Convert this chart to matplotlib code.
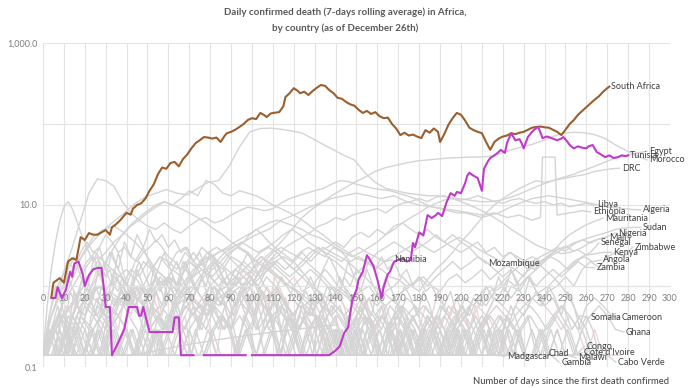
import matplotlib
matplotlib.use("Agg")
import numpy as np
import matplotlib.pyplot as plt

plt.rcParams['font.family'] = ['Lato', 'DejaVu Sans']

# South Africa (brown) and Tunisia (magenta): day, 7-day avg deaths
sa_days = [4, 5, 8, 10, 12, 14, 16, 18, 20, 22, 24, 26, 28, 30, 32, 33, 35, 37, 39, 40,
           42, 43, 45, 47, 49, 51, 53, 55, 57, 59, 61, 63, 65, 67, 69, 71, 73, 75, 77, 79,
           81, 83, 85, 87, 88, 90, 92, 94, 96, 98, 100, 102, 104, 106, 107, 109, 111, 113, 115, 116,
           118, 120, 122, 123, 125, 127, 129, 131, 133, 135, 137, 139, 141, 143, 145, 147, 149, 151, 153, 155,
           157, 159, 161, 163, 165, 167, 169, 171, 173, 175, 177, 179, 181, 183, 185, 187, 189, 190, 192, 194,
           196, 198, 200, 202, 204, 206, 208, 210, 212, 214, 216, 218, 220, 222, 224, 226, 228, 230, 232, 234,
           236, 238, 240, 242, 244, 246, 248, 250, 252, 254, 256, 258, 260, 262, 264, 266, 268, 270, 271]
sa_vals = [0.73, 1.1, 1.25, 1.1, 2.0, 2.2, 2.1, 4.0, 3.7, 4.5, 4.3, 4.3, 4.6, 4.9, 4.3, 5.3, 5.8, 6.5, 7.5, 8.0,
           7.6, 9.0, 10, 10.5, 12, 15, 18, 24, 29, 28, 33, 34, 30, 37, 42, 50, 58, 63, 69, 68,
           66, 68, 60, 72, 77, 80, 85, 92, 100, 112, 118, 115, 137, 128, 122, 135, 138, 140, 165, 215,
           240, 277, 255, 240, 250, 228, 255, 280, 303, 295, 262, 240, 210, 205, 187, 175, 168, 150, 137, 145,
           133, 140, 125, 118, 120, 100, 88, 73, 78, 72, 74, 70, 67, 84, 78, 88, 80, 60, 75, 98,
           118, 137, 130, 110, 90, 84, 80, 77, 60, 48, 60, 66, 70, 72, 77, 75, 78, 80, 85, 90,
           92, 93, 91, 90, 85, 80, 73, 85, 100, 112, 130, 145, 162, 180, 200, 220, 250, 277, 290]

tun_days = [4, 6, 7, 9, 11, 13, 14, 15, 17, 19, 20, 22, 24, 26, 28, 29, 30, 32, 33, 36,
            39, 41, 43, 45, 46, 47, 48, 49, 51, 55, 60, 62, 63, 65, 66, 67, 70, 72, 73, 76,
            77, 85, 92, 97, 98, 99, 100, 110, 120, 130, 137, 140, 142, 144, 146, 148, 150, 151, 153, 155,
            156, 158, 160, 162, 163, 165, 166, 168, 170, 172, 174, 176, 177, 178, 180, 182, 184, 186, 188, 189,
            191, 193, 195, 197, 198, 200, 202, 203, 204, 206, 208, 210, 211, 213, 214, 216, 218, 219, 221, 222,
            224, 226, 228, 229, 230, 232, 234, 235, 237, 239, 241, 242, 244, 246, 248, 249, 251, 252, 254, 256,
            258, 260, 261, 263, 265, 267, 269, 271, 273, 275, 277, 279, 280]
tun_vals = [0.71, 0.71, 0.97, 0.71, 0.9, 1.5, 1.3, 1.9, 2.0, 1.4, 1.0, 1.37, 1.6, 1.67, 1.67, 1.0, 0.55, 0.55, 0.14, 0.2,
            0.3, 0.55, 0.55, 0.55, 0.43, 0.43, 0.55, 0.43, 0.27, 0.27, 0.27, 0.27, 0.41, 0.41, 0.14, 0.14, 0.14, 0.14, 0, 0,
            0.14, 0.14, 0.14, 0.14, 0, 0, 0.14, 0.14, 0.14, 0.14, 0.14, 0.16, 0.18, 0.26, 0.31, 0.67, 0.9, 1.2, 1.5, 2.4,
            2.2, 1.8, 1.2, 0.71, 0.97, 1.4, 1.5, 2.0, 2.1, 2.2, 2.0, 2.1, 3.4, 3.0, 4.6, 4.2, 7.5, 6.9, 7.5, 8.0,
            7.3, 10.6, 14, 13, 14.5, 14, 18.7, 23, 25, 23, 21.5, 15, 28, 35, 38, 41, 45, 48, 44, 58,
            77, 63, 65, 58, 50, 69, 80, 85, 92, 67, 70, 69, 66, 63, 66, 69, 60, 55, 50, 53,
            51, 50, 53, 55, 45, 42, 39, 41, 38, 39, 41, 40, 41]

# other countries: (day of first value, step in days, values)
egypt = (4, 5, [0.43, 0.86, 1.6, 2.4, 3.6, 4.9, 6.3, 8.0, 10.4, 12.6, 14, 15.5, 14, 13.3, 16, 19, 20, 30, 52, 80,
                88, 89, 86, 82, 77, 66, 56, 48, 41, 36, 25, 19, 16, 15, 14, 13.5, 13, 13, 12.5, 12,
                11.5, 11, 11, 11.5, 12.5, 14, 16, 18, 20, 22, 24, 27, 30, 34, 38, 41, 44, 46])
morocco = (4, 5, [0.29, 0.57, 1.2, 2.5, 4.0, 5.0, 5.5, 4.5, 3.5, 2.5, 1.6, 1.2, 0.9, 0.7, 0.6, 0.5, 0.7, 0.9, 1.2, 1.5,
                  2.0, 2.6, 3.5, 5.0, 7.0, 9.0, 11, 13.5, 16, 19, 22, 26, 29, 31, 33, 35, 36, 37, 38, 38.5,
                  39, 39, 40, 43, 48, 52, 56, 62, 70, 77, 79, 78, 74, 66, 55, 47, 41, 36])
algeria = (2, 4, [0.29, 0.6, 1.5, 3.0, 6.5, 14, 21, 20, 17, 11, 8, 6.5, 5.5, 5, 6, 5, 4.5, 5.5, 6.5, 7,
                  6, 6.5, 7.5, 8.5, 9.4, 9, 8.5, 9, 10.6, 12, 13, 14, 15, 16, 18, 20, 19.5, 18, 17, 16,
                  15.5, 15, 14, 13, 12, 10.5, 9.5, 9, 8.5, 8, 8, 7.5, 7, 7.5, 8, 9, 10, 11, 12, 12.5,
                  13, 12.5, 12, 11.5, 11, 10.5, 10, 9.5, 9.2, 9, 8.8, 8.7])
nigeria = (2, 4, [0.14, 0.29, 0.43, 0.57, 0.86, 1.3, 2.0, 2.6, 3.5, 4.3, 5.5, 6.5, 8, 9.4, 11, 10, 12, 15, 13, 20,
                  18, 14, 13, 15, 14, 13, 11.5, 10, 9, 8, 7, 6, 5, 4.3, 3.5, 3, 2.6, 2.2, 2.0, 1.8,
                  1.6, 1.3, 1.2, 1.0, 1.1, 1.3, 1.0, 0.86, 1.2, 1.4, 1.1, 1.3, 1.6, 1.2, 1.5, 1.8, 1.6, 2.0, 2.3, 2.0,
                  2.4, 2.8, 3.1, 2.7, 3.0, 3.5, 3.8, 4.1, 4.5])
drc = (0, 4, [0.14, 0.29, 0.43, 0.29, 0.57, 0.43, 0.86, 1.0, 0.71, 1.3, 1.6, 1.2, 2.0, 1.6, 2.3, 2.0, 1.6, 2.6, 2.0, 3.0,
              2.4, 2.0, 1.6, 1.3, 1.0, 1.2, 0.86, 0.71, 1.0, 0.57, 0.43, 0.71, 0.57, 0.29, 0.43, 0.57, 0.43, 0.29, 0.43, 0.71,
              0.57, 0.86, 1.0, 1.3, 1.0, 0.86, 1.2, 1.6, 2.0, 2.6, 3.5, 4.5, 6, 8, 10, 12, 14, 16, 18, 20,
              19, 20, 21, 22, 23, 24, 26, 27, 28, 28.5])
libya = (0, 4, [0.14, 0.29, 0.14, 0.14, 0.29, 0.14, 0.14, 0.29, 0.14, 0.14, 0.29, 0.14, 0.43, 0.29, 0.14, 0.29, 0.43, 0.29, 0.57, 0.43,
                0.71, 0.57, 0.86, 1.0, 1.3, 1.0, 1.6, 2.0, 2.3, 3.0, 3.5, 4.0, 4.6, 5.5, 6.0, 7.0, 6.5, 7.5, 8.0, 8.5,
                9.0, 8.0, 9.5, 10.5, 11, 12, 11, 12.5, 13, 12, 11.5, 12, 13, 12, 11, 10.5, 11.5, 12, 11, 10.5,
                11, 10, 10.5, 9.5, 10, 10.5, 10])
ethiopia_days = [0, 6, 12, 18, 24, 30, 36, 42, 48, 54, 60, 66, 72, 78, 84, 90, 96, 102, 108, 114,
                 120, 126, 132, 138, 144, 150, 156, 162, 168, 174, 180, 186, 192, 198, 204, 210, 216, 222, 228, 234,
                 238, 239, 245, 246, 252, 258, 262]
ethiopia_vals = [0.14, 0.29, 0.14, 0.43, 0.29, 0.57, 0.43, 0.86, 0.57, 1.0, 1.3, 1.0, 1.6, 2.0, 2.6, 3.0, 3.5, 4.3, 5, 6.5,
                 7.5, 9, 10.5, 12, 13, 14, 13, 12, 13, 11, 10, 9.5, 9, 8.5, 8, 7.5, 8, 7, 7.5, 6.5,
                 7, 39, 39, 7.5, 8, 8.5, 8.2]
mauritania = (0, 4, [0.14, 0.14, 0.29, 0.14, 0.43, 0.29, 0.14, 0.57, 0.29, 0.14, 0.43, 0.71, 1.0, 1.6, 2.3, 1.7, 2.6, 3.0, 2.0, 1.6,
                     1.3, 1.0, 0.71, 0.86, 0.57, 0.43, 0.71, 0.29, 0.43, 0.14, 0.29, 0.14, 0.29, 0.43, 0.14, 0.29, 0.14, 0.14, 0.29, 0.43,
                     0.14, 0.29, 0.14, 0.57, 0.29, 0.14, 0.43, 0.29, 0.14, 0.29, 0.43, 0.57, 0.29, 0.43, 0.71, 0.57, 1.0, 0.86, 1.3, 1.6,
                     2.0, 2.6, 3.5, 4.3, 5.0, 5.7, 6.3, 6.9])
sudan = (2, 4, [0.14, 0.29, 0.43, 0.29, 0.57, 0.86, 1.3, 2.0, 3.0, 4.3, 5.7, 7.0, 8.5, 10.0, 11, 10, 9.0, 8.0, 7.0, 6.0,
                5.0, 4.3, 3.5, 3.0, 2.6, 2.0, 1.7, 1.4, 1.2, 1.0, 0.86, 0.71, 0.57, 0.71, 0.43, 0.57, 0.29, 0.43, 0.57, 0.29,
                0.43, 0.29, 0.14, 0.29, 0.43, 0.57, 0.43, 0.29, 0.57, 0.43, 0.71, 0.57, 0.86, 1.0, 0.71, 1.2, 1.0, 1.4, 1.7, 2.0,
                2.3, 2.6, 3.0, 3.4, 3.7, 4.0, 4.3, 4.6, 5.0, 5.2, 5.3, 5.3])
mali = (2, 4, [0.14, 0.29, 0.14, 0.43, 0.71, 0.57, 1.0, 0.86, 1.3, 1.0, 1.6, 1.3, 2.0, 1.6, 1.3, 1.0, 0.71, 0.86, 0.57, 0.43,
               0.57, 0.29, 0.43, 0.14, 0.29, 0.43, 0.14, 0.29, 0.14, 0.43, 0.29, 0.14, 0.29, 0.57, 0.29, 0.14, 0.43, 0.29, 0.57, 0.43,
               0.29, 0.57, 0.43, 0.71, 0.57, 0.43, 0.29, 0.57, 0.43, 0.29, 0.43, 0.71, 0.57, 0.86, 1.0, 1.3, 1.6, 1.3, 2.0, 2.3,
               2.6, 3.0, 2.7, 3.3, 3.7, 3.4, 3.8, 4.0])
senegal = (2, 4, [0.14, 0.14, 0.29, 0.14, 0.43, 0.29, 0.57, 0.43, 0.71, 0.57, 0.86, 1.0, 0.71, 1.3, 1.0, 1.6, 1.3, 2.0, 1.7, 2.3,
                  2.0, 1.6, 2.3, 2.0, 1.6, 1.3, 1.7, 2.0, 1.6, 1.3, 1.6, 2.0, 2.6, 3.0, 2.6, 2.3, 2.0, 1.6, 1.3, 1.0,
                  0.86, 0.71, 0.57, 0.43, 0.57, 0.29, 0.43, 0.29, 0.14, 0.29, 0.43, 0.29, 0.14, 0.29, 0.43, 0.29, 0.57, 0.43, 0.71, 0.86,
                  1.0, 1.3, 1.6, 2.0, 2.3, 2.6, 3.4])
zimbabwe = (2, 4, [0.14, 0.14, 0.14, 0.29, 0.14, 0.14, 0.29, 0.14, 0.14, 0.14, 0.29, 0.14, 0.14, 0.29, 0.14, 0.14, 0.14, 0.29, 0.14, 0.14,
                   0.29, 0.43, 0.29, 0.57, 0.86, 1.3, 2.0, 2.6, 3.0, 2.6, 2.3, 2.0, 1.6, 1.3, 1.0, 0.86, 0.71, 0.57, 0.43, 0.29,
                   0.43, 0.29, 0.14, 0.29, 0.14, 0.29, 0.43, 0.29, 0.14, 0.29, 0.14, 0.29, 0.43, 0.29, 0.14, 0.29, 0.43, 0.57, 0.71, 0.57,
                   0.86, 1.0, 1.3, 1.0, 1.6, 2.0, 1.7, 2.3, 2.6, 2.3, 3.0])
kenya = (0, 4, [0.14, 0.29, 0.43, 0.29, 0.57, 0.43, 0.71, 0.57, 0.86, 0.71, 0.57, 0.86, 1.0, 0.71, 1.0, 1.3, 1.0, 1.6, 1.3, 2.0,
                2.3, 2.6, 3.0, 3.5, 4.0, 4.6, 5.3, 6.0, 6.5, 6.0, 5.5, 5.0, 4.3, 4.0, 3.5, 3.0, 2.6, 2.3, 2.6, 3.0,
                3.5, 4.3, 5.0, 6.0, 7.0, 8.0, 9.4, 10.5, 11.5, 12, 11, 10, 9.0, 8.0, 7.0, 6.0, 5.0, 4.3, 3.7, 3.2,
                2.9, 2.7, 2.5, 2.6, 2.8, 2.4, 2.5, 2.6, 2.6])
angola = (3, 4, [0.14, 0.14, 0.29, 0.14, 0.14, 0.29, 0.14, 0.14, 0.14, 0.29, 0.14, 0.14, 0.29, 0.43, 0.29, 0.14, 0.29, 0.43, 0.57, 0.43,
                 0.71, 0.57, 0.86, 1.0, 1.3, 1.0, 1.6, 2.0, 2.3, 2.0, 2.6, 3.0, 2.6, 2.3, 3.0, 2.6, 2.0, 2.3, 2.0, 1.6,
                 2.0, 2.3, 2.6, 3.0, 3.5, 3.0, 2.6, 3.0, 3.5, 4.0, 3.5, 3.0, 2.6, 2.3, 2.0, 2.6, 2.3, 2.0, 1.6, 2.0,
                 2.3, 2.0, 1.6, 2.0, 2.3, 2.0, 2.1])
zambia = (4, 4, [0.14, 0.14, 0.29, 0.14, 0.29, 0.14, 0.14, 0.29, 0.43, 0.29, 0.14, 0.29, 0.57, 0.43, 0.29, 0.57, 0.71, 0.43, 0.29, 0.57,
                 0.86, 1.0, 1.3, 1.6, 2.0, 2.6, 3.0, 2.6, 2.0, 1.6, 1.3, 1.0, 0.86, 0.71, 0.57, 0.43, 0.57, 0.43, 0.29, 0.43,
                 0.29, 0.43, 0.57, 0.43, 0.29, 0.14, 0.29, 0.43, 0.29, 0.57, 0.43, 0.71, 0.57, 0.86, 1.0, 0.71, 1.0, 1.3, 1.0, 1.3,
                 1.6, 1.3, 1.6, 2.0, 1.7, 1.67])
namibia = (3, 4, [0.14, 0.14, 0.14, 0.29, 0.14, 0.14, 0.14, 0.29, 0.14, 0.14, 0.14, 0.29, 0.14, 0.14, 0.43, 0.29, 0.57, 0.86, 1.3, 1.6,
                  2.0, 2.6, 3.0, 3.5, 3.0, 2.6, 3.0, 3.5, 4.3, 5.0, 4.3, 3.5, 3.0, 2.6, 2.3, 2.0, 2.6, 3.0, 2.6, 2.3,
                  2.0, 2.1])
mozambique = (4, 4, [0.14, 0.14, 0.29, 0.14, 0.14, 0.29, 0.14, 0.29, 0.43, 0.29, 0.14, 0.29, 0.43, 0.57, 0.43, 0.29, 0.57, 0.43, 0.71, 0.57,
                     0.86, 1.0, 1.3, 1.0, 1.6, 1.3, 2.0, 1.6, 1.3, 1.0, 1.3, 1.6, 1.3, 1.0, 0.86, 1.0, 0.71, 0.86, 1.0, 0.71,
                     0.57, 0.71, 0.86, 1.0, 1.3, 1.0, 1.3, 1.6, 2.0, 1.6, 1.9, 2.3, 1.9])
somalia = (1, 4, [0.14, 0.29, 0.57, 0.86, 1.3, 2.0, 2.6, 2.0, 1.6, 1.3, 1.0, 0.71, 0.57, 0.43, 0.29, 0.43, 0.29, 0.14, 0.29, 0.14,
                  0.29, 0.43, 0.29, 0.14, 0.29, 0.14, 0.14, 0.29, 0.14, 0.14, 0.29, 0.14, 0.14, 0.14, 0.29, 0.14, 0.14, 0.29, 0.14, 0.14,
                  0.29, 0.14, 0.43, 0.29, 0.14, 0.29, 0.14, 0.14, 0.29, 0.43, 0.29, 0.14, 0.29, 0.43, 0.57, 0.43, 0.29, 0.43, 0.57, 0.43,
                  0.29, 0.43, 0.57, 0.29, 0.43, 0.41])
cameroon = (0, 4, [0.14, 0.43, 0.86, 1.3, 0.71, 1.6, 2.3, 1.3, 2.6, 1.6, 1.0, 2.0, 3.0, 1.6, 0.86, 1.3, 2.0, 1.0, 0.71, 1.3,
                   2.6, 1.6, 1.0, 0.57, 0.86, 1.3, 0.71, 0.43, 0.86, 0.57, 0.29, 0.57, 0.43, 0.71, 0.29, 0.43, 0.14, 0.29, 0.57, 0.29,
                   0.14, 0.29, 0.43, 0.14, 0.29, 0.14, 0.43, 0.29, 0.14, 0.29, 0.14, 0.14, 0.29, 0.43, 0.14, 0.29, 0.57, 0.29, 0.43, 0.14,
                   0.29, 0.43, 0.57, 0.43, 0.29, 0.57, 0.71, 0.57, 0.43, 0.41])
ghana = (2, 4, [0.14, 0.29, 0.43, 0.29, 0.57, 0.71, 0.43, 0.86, 0.57, 1.0, 0.71, 0.43, 0.86, 1.3, 1.0, 0.57, 1.3, 2.0, 1.6, 1.0,
                2.3, 1.3, 0.86, 1.6, 2.6, 1.6, 1.0, 0.71, 1.3, 0.86, 0.57, 0.86, 0.43, 0.29, 0.57, 0.43, 0.29, 0.14, 0.43, 0.29,
                0.14, 0.29, 0.14, 0.43, 0.29, 0.14, 0.29, 0.14, 0.29, 0.43, 0.29, 0.14, 0.29, 0.14, 0.29, 0.43, 0.29, 0.14, 0.29, 0.14,
                0.29, 0.43, 0.29, 0.14, 0.29, 0.43, 0.57, 0.43, 0.29, 0.27])
congo = (3, 4, [0.14, 0.14, 0.29, 0.14, 0.14, 0.29, 0.14, 0.43, 0.29, 0.14, 0.29, 0.14, 0.14, 0.43, 0.29, 0.57, 0.29, 0.14, 0.43, 0.71,
                0.43, 0.29, 0.57, 0.86, 0.57, 0.29, 0.43, 0.71, 0.43, 0.29, 0.14, 0.29, 0.43, 0.29, 0.14, 0.29, 0.14, 0.14, 0.29, 0.14,
                0.14, 0.29, 0.14, 0.14, 0.14, 0.29, 0.14, 0.14, 0.29, 0.14, 0.14, 0.14, 0.29, 0.14, 0.14, 0.14, 0.29, 0.14, 0.14, 0.29,
                0.14, 0.14, 0.29, 0.14, 0.18])
cote_divoire = (2, 4, [0.14, 0.29, 0.14, 0.43, 0.29, 0.57, 0.43, 0.29, 0.57, 0.86, 0.57, 0.43, 0.71, 0.43, 0.29, 0.57, 0.86, 1.3, 0.86, 0.57,
                       1.0, 0.71, 0.43, 0.86, 0.57, 0.29, 0.57, 0.43, 0.29, 0.14, 0.29, 0.43, 0.29, 0.14, 0.29, 0.14, 0.29, 0.43, 0.14, 0.29,
                       0.14, 0.14, 0.29, 0.14, 0.29, 0.14, 0.14, 0.29, 0.14, 0.14, 0.29, 0.14, 0.14, 0.29, 0.14, 0.43, 0.29, 0.14, 0.14, 0.29,
                       0.14, 0.29, 0.14, 0.14, 0.15])
madgascar = (1, 4, [0.14, 0.14, 0.14, 0.14, 0.14, 0.14, 0.14, 0.14, 0.29, 0.14, 0.14, 0.14, 0.29, 0.14, 0.14, 0.29, 0.43, 0.57, 0.86, 1.3,
                    1.6, 2.0, 2.6, 3.0, 2.6, 2.0, 2.3, 1.6, 1.3, 1.0, 0.86, 0.57, 0.71, 0.43, 0.29, 0.43, 0.29, 0.14, 0.29, 0.14,
                    0.29, 0.14, 0.14, 0.29, 0.14, 0.14, 0.29, 0.14, 0.14, 0.29, 0.14, 0.14, 0.29, 0.14, 0.14, 0.135])
chad = (1, 4, [0.14, 0.29, 0.43, 0.57, 0.86, 0.71, 1.0, 0.57, 0.43, 0.71, 0.43, 0.29, 0.14, 0.29, 0.14, 0.14, 0.29, 0.14, 0.14, 0.14,
               0.29, 0.14, 0.14, 0.14, 0.29, 0.14, 0.14, 0.14, 0.14, 0.29, 0.14, 0.14, 0.14, 0.29, 0.14, 0.14, 0.14, 0.14, 0.14, 0.29,
               0.14, 0.14, 0.14, 0.14, 0.29, 0.14, 0.14, 0.14, 0.14, 0.14, 0.29, 0.14, 0.14, 0.14, 0.29, 0.14, 0.14, 0.29, 0.43, 0.29,
               0.145])
malawi = (3, 4, [0.14, 0.14, 0.29, 0.14, 0.14, 0.14, 0.29, 0.14, 0.14, 0.29, 0.14, 0.14, 0.29, 0.43, 0.29, 0.57, 0.86, 1.3, 2.0, 2.6,
                 3.0, 2.6, 2.0, 1.6, 1.3, 1.0, 0.71, 0.57, 0.43, 0.29, 0.43, 0.29, 0.14, 0.29, 0.14, 0.14, 0.29, 0.14, 0.14, 0.14,
                 0.14, 0.29, 0.14, 0.14, 0.14, 0.14, 0.29, 0.14, 0.14, 0.14, 0.29, 0.14, 0.14, 0.14, 0.14, 0.29, 0.14, 0.14, 0.14, 0.14,
                 0.29, 0.14, 0.14, 0.13])
gambia = (3, 4, [0.14, 0.14, 0.14, 0.14, 0.14, 0.14, 0.14, 0.14, 0.14, 0.14, 0.14, 0.14, 0.14, 0.29, 0.14, 0.14, 0.14, 0.14, 0.14, 0.29,
                 0.14, 0.14, 0.14, 0.29, 0.57, 0.86, 1.3, 1.0, 0.71, 0.43, 0.57, 0.29, 0.43, 0.14, 0.29, 0.14, 0.14, 0.29, 0.14, 0.14,
                 0.14, 0.14, 0.29, 0.14, 0.14, 0.14, 0.14, 0.14, 0.14, 0.14, 0.14, 0.14, 0.14, 0.14, 0.29, 0.14, 0.14, 0.14, 0.14, 0.14,
                 0.14, 0.115])
cabo_verde = (2, 4, [0.14, 0.14, 0.14, 0.14, 0.29, 0.14, 0.14, 0.14, 0.29, 0.14, 0.14, 0.14, 0.14, 0.29, 0.14, 0.14, 0.14, 0.29, 0.43, 0.29,
                     0.57, 0.43, 0.29, 0.43, 0.29, 0.14, 0.29, 0.43, 0.57, 0.43, 0.29, 0.43, 0.29, 0.57, 0.43, 0.29, 0.14, 0.29, 0.43, 0.29,
                     0.14, 0.29, 0.43, 0.29, 0.14, 0.29, 0.14, 0.14, 0.29, 0.14, 0.29, 0.14, 0.29, 0.43, 0.29, 0.14, 0.29, 0.14, 0.14, 0.29,
                     0.14, 0.29, 0.14, 0.14, 0.29, 0.14, 0.14, 0.14, 0.115])

# countries whose latest value is zero (no label on the chart)
other_a = (0, 3, [0.14, 0.43, 1.0, 0.57, 1.6, 2.3, 1.3, 0.86, 2.0, 3.0, 1.6, 1.0, 2.6, 1.3, 0.71, 1.6, 1.0, 0.43, 0.86, 0.57,
                  1.3, 0.71, 0.43, 1.0, 0.57, 0.29, 0.71, 0.43, 0.29, 0.57, 0.29, 0.14, 0.43, 0.29, 0.14, 0.29, 0.57, 0.29, 0.14, 0.43,
                  0.29, 0.14, 0.29, 0.14, 0.43, 0.29, 0.14, 0.29, 0.14, 0.14, 0.29, 0.14, 0.43, 0.29, 0.14, 0.29, 0.14, 0.29, 0.14, 0.14])
other_b = (1, 3, [0.14, 0.29, 0.57, 0.29, 0.86, 0.57, 1.3, 0.86, 0.43, 1.0, 0.71, 1.6, 1.0, 0.57, 1.3, 2.0, 1.3, 0.86, 1.6, 2.6,
                  1.6, 1.0, 2.0, 1.3, 0.86, 1.3, 0.71, 1.0, 0.57, 0.86, 0.43, 0.71, 0.43, 0.29, 0.57, 0.29, 0.43, 0.14, 0.29, 0.43,
                  0.29, 0.57, 0.43, 0.86, 0.57, 1.0, 0.71, 1.3, 0.86, 0.57, 1.0, 0.71, 0.43, 0.86, 0.57, 0.29, 0.57, 0.43, 0.29, 0.14,
                  0.29, 0.43, 0.29, 0.14, 0.29, 0.14, 0.29, 0.14, 0.14, 0.14])
other_c = (2, 3, [0.14, 0.14, 0.29, 0.14, 0.43, 0.29, 0.14, 0.43, 0.71, 0.43, 0.86, 0.57, 1.0, 0.71, 1.3, 1.0, 0.71, 1.6, 1.0, 0.57,
                  1.3, 0.86, 2.0, 1.3, 0.86, 1.6, 1.0, 0.71, 1.3, 0.86, 0.57, 1.0, 0.71, 0.43, 0.86, 0.57, 0.29, 0.71, 0.43, 0.29,
                  0.57, 0.86, 1.3, 0.86, 1.6, 2.3, 1.6, 1.0, 2.0, 1.3, 0.86, 1.6, 1.0, 0.71, 1.3, 0.86, 0.57, 1.0, 0.71, 0.43,
                  0.86, 0.57, 0.29, 0.57, 0.43, 0.29, 0.57, 0.43, 0.71, 0.57, 1.0, 0.71, 1.3, 0.86, 1.6, 1.0, 0.71, 1.3, 0.86, 0.57,
                  1.0, 0.71, 0.43, 0.86, 0.57, 0.29, 0.43, 0.29, 0.14, 0.14])
other_d = (0, 3, [0.14, 0.29, 0.14, 0.57, 0.29, 0.86, 0.43, 1.3, 0.71, 2.0, 1.3, 2.6, 1.6, 3.5, 2.3, 4.3, 3.0, 5.0, 3.5, 4.3,
                  3.0, 3.7, 2.6, 3.0, 2.0, 2.6, 1.6, 2.0, 1.3, 1.6, 1.0, 1.3, 0.86, 1.0, 0.57, 0.86, 0.43, 0.71, 0.29, 0.57,
                  0.43, 0.29, 0.57, 0.43, 0.86, 0.57, 1.0, 0.71, 1.3, 1.0, 1.6, 1.3, 2.0, 1.6, 2.3, 1.6, 2.0, 1.3, 1.6, 1.0,
                  1.3, 0.86, 1.0, 0.71, 0.57, 0.86, 0.43, 0.57, 0.29, 0.43, 0.29, 0.14, 0.29, 0.43, 0.29, 0.14, 0.29, 0.14, 0.14, 0.14])
other_e = (0, 3, [0.14, 0.43, 0.86, 1.3, 2.0, 1.6, 2.6, 3.5, 2.6, 3.0, 4.3, 3.5, 2.6, 3.0, 2.3, 2.0, 2.6, 3.0, 3.7, 3.0,
                  2.3, 2.0, 1.6, 2.0, 2.6, 2.0, 1.6, 1.3, 1.6, 2.0, 2.6, 3.0, 3.5, 4.3, 5.0, 4.3, 3.5, 3.0, 2.6, 2.3,
                  2.0, 1.6, 1.3, 1.0, 1.3, 1.6, 1.3, 1.0, 0.86, 0.71, 0.86, 0.57, 0.71, 0.43, 0.57, 0.29, 0.43, 0.57, 0.29, 0.43,
                  0.29, 0.14, 0.29, 0.43, 0.29, 0.14, 0.29, 0.14, 0.29, 0.14, 0.14, 0.29, 0.14, 0.14, 0.14])
other_f = (0, 2, [0.14, 0.57, 1.6, 3.5, 6.3, 9.4, 11, 9.0, 6.5, 4.6, 3.5, 2.6, 2.0, 2.3, 1.6, 1.3, 1.6, 1.0, 0.86, 1.3,
                  0.71, 0.57, 0.86, 0.43, 0.29, 0.57, 0.29, 0.14, 0.29, 0.14])
other_g = (40, 10, [0.14, 0.15, 0.17, 0.19, 0.21, 0.23, 0.25, 0.27, 0.29, 0.31, 0.33])
other_h = (0, 4, [0.14, 0.29, 0.14, 0.43, 0.29, 0.57, 0.43, 0.29, 0.57, 0.43, 0.71, 0.57, 0.86, 0.57, 0.43, 0.71, 0.57, 0.86, 1.0, 0.71,
                  1.0, 1.3, 1.0, 1.6, 1.3, 1.0, 1.3, 1.6, 2.0, 1.6, 2.0, 2.6, 2.0, 2.6, 3.0, 3.5, 3.0, 4.0, 4.6, 4.0,
                  5.0, 4.3, 5.5, 6.0, 5.0, 4.3, 5.0, 4.0, 3.5, 4.3, 3.5, 3.0, 3.5, 2.6, 3.0, 2.3, 2.6, 2.0, 1.6, 2.0,
                  1.6, 1.3, 1.0, 0.71, 0.43, 0.29, 0.14, 0.14])
other_i = (20, 4, [0.14, 0.29, 0.43, 0.29, 0.57, 0.86, 0.57, 1.0, 0.71, 1.3, 1.0, 0.71, 1.0, 1.3, 1.6, 1.3, 1.0, 1.3, 1.6, 2.0,
                   1.6, 2.3, 2.0, 2.6, 2.0, 1.6, 2.0, 2.6, 3.0, 2.3, 2.0, 1.6, 1.3, 1.6, 2.0, 2.6, 3.0, 3.5, 3.0, 2.6,
                   3.0, 3.5, 4.3, 3.5, 3.0, 2.6, 3.0, 2.3, 2.0, 1.6, 1.3, 1.6, 1.0, 1.3, 0.86, 0.57, 0.71, 0.43, 0.29, 0.14,
                   0.14])
pink_a = (5, 3, [0.14, 0.29, 0.57, 0.43, 0.86, 0.57, 1.0, 1.6, 1.0, 0.71, 1.3, 0.86, 0.57, 1.0, 0.71, 0.43, 0.71, 0.43, 0.29, 0.57,
                 0.29, 0.43, 0.14, 0.29, 0.57, 0.29, 0.14, 0.43, 0.29, 0.14, 0.29, 0.57, 0.86, 0.57, 1.0, 0.71, 0.43, 0.71, 0.43, 0.29,
                 0.43, 0.29, 0.14, 0.29, 0.14, 0.29, 0.14, 0.14, 0.29, 0.14])
pink_b = (60, 4, [0.14, 0.29, 0.43, 0.71, 0.57, 1.0, 0.86, 1.3, 1.0, 1.6, 1.3, 2.0, 1.6, 1.3, 1.0, 1.3, 0.86, 1.0, 0.71, 0.57,
                  0.86, 0.57, 0.43, 0.71, 0.43, 0.29, 0.57, 0.29, 0.43, 0.29, 0.14, 0.29, 0.43, 0.29, 0.57, 0.43, 0.29, 0.57, 0.43, 0.71,
                  0.57, 0.43, 0.71, 0.57, 0.86, 0.57, 0.43, 0.29, 0.43, 0.29, 0.14, 0.29, 0.14, 0.14, 0.14])
pink_c = (30, 3, [0.14, 0.43, 0.29, 0.71, 0.43, 1.0, 0.57, 0.29, 0.86, 0.43, 1.3, 0.71, 0.43, 1.0, 0.57, 0.29, 0.71, 0.43, 0.86, 0.57,
                  0.29, 0.57, 1.0, 0.71, 0.43, 0.86, 0.57, 1.3, 0.86, 0.57, 1.0, 0.71, 0.43, 0.71, 0.29, 0.57, 0.43, 0.86, 0.57, 0.29,
                  0.43, 0.71, 0.43, 0.29, 0.57, 0.29, 0.43, 0.14, 0.29, 0.43, 0.29, 0.57, 0.43, 0.86, 0.57, 0.43, 0.71, 0.43, 0.29, 0.57,
                  0.29, 0.43, 0.29, 0.14, 0.29, 0.14, 0.29, 0.14, 0.14, 0.14])

labelled = [("Egypt", egypt), ("Morocco", morocco), ("Algeria", algeria), ("Nigeria", nigeria),
            ("DRC", drc), ("Libya", libya), ("Mauritania", mauritania), ("Sudan", sudan),
            ("Mali", mali), ("Senegal", senegal), ("Zimbabwe", zimbabwe), ("Kenya", kenya),
            ("Angola", angola), ("Zambia", zambia), ("Namibia", namibia), ("Mozambique", mozambique),
            ("Somalia", somalia), ("Cameroon", cameroon), ("Ghana", ghana), ("Congo", congo),
            ("Cote d'Ivoire", cote_divoire), ("Madgascar", madgascar), ("Chad", chad),
            ("Malawi", malawi), ("Gambia", gambia), ("Cabo Verde", cabo_verde)]
unlabelled = [other_a, other_b, other_c, other_d, other_e, other_f, other_g, other_h, other_i]
pinkish = [pink_a, pink_b, pink_c]
x_ticks = list(range(0, 301, 10))


def expand(series):
    start, step, vals = series
    return start + step * np.arange(len(vals)), np.array(vals, dtype=float)


GREY = '#d4d4d4'
LABEL = '#404040'
TICK = '#7f7f7f'
fig = plt.figure(figsize=(6.9, 3.88), dpi=100)
ax = fig.add_axes([0.0623, 0.0541, 0.9087, 0.8351])
ax.set_yscale('log', nonpositive='mask')

for s in pinkish:
    x, y = expand(s)
    ax.plot(x, y, color='#ebd6d6', lw=1.0, zorder=2)
for s in unlabelled:
    x, y = expand(s)
    ax.plot(x, y, color=GREY, lw=1.0, zorder=2)

ends = []
for name, s in labelled:
    x, y = expand(s)
    ax.plot(x, y, color=GREY, lw=1.0, zorder=2)
    ends.append((name, x[-1], y[-1]))
ax.plot(ethiopia_days, ethiopia_vals, color=GREY, lw=1.0, zorder=2)
ends.append(("Ethiopia", ethiopia_days[-1], ethiopia_vals[-1]))

ax.plot(sa_days, sa_vals, color='#9b5f2d', lw=1.5, zorder=4)
ax.plot(tun_days, tun_vals, color='#bf3cc8', lw=1.5, zorder=5)
ends.append(("South Africa", sa_days[-1], sa_vals[-1]))
ends.append(("Tunisia", tun_days[-1], tun_vals[-1]))

for name, x, y in ends:
    ax.annotate(name, (x, y), xytext=(1.5, 0), textcoords='offset points',
                ha='left', va='center', fontsize=6.5, color=LABEL, zorder=6,
                annotation_clip=False)

# day labels sit on the y = 1 axis line, above the grey lines but below the highlighted ones
for d in x_ticks:
    ax.annotate(str(d), (d, 1), xytext=(0, -9), textcoords='offset points',
                ha='center', va='center', fontsize=6.5, color=TICK, zorder=3,
                annotation_clip=False)

ax.set_xlim(0, 300)
ax.set_ylim(0.1, 1000)
ax.set_xticks(x_ticks)
ax.set_xticklabels([])
ax.set_yticks([0.1, 1, 10, 100, 1000])
ax.set_yticklabels(['0.1', '', '10.0', '', '1,000.0'])
ax.yaxis.set_minor_locator(plt.NullLocator())
ax.tick_params(length=0, labelsize=6.5, labelcolor=TICK)
ax.tick_params(axis='y', pad=4)
ax.grid(True, color='#e3e3e3', lw=0.8)
ax.set_axisbelow(True)
for side in ['top', 'right', 'left']:
    ax.spines[side].set_visible(False)
ax.spines['bottom'].set_position(('data', 1))
ax.spines['bottom'].set_color('#e3e3e3')

fig.text(0.5, 1 - 12 / 388, "Daily confirmed death (7-days rolling average) in Africa,",
         ha='center', va='center', fontsize=7, fontweight='bold', color='#595959')
fig.text(0.5, 1 - 28 / 388, "by country (as of December 26th)",
         ha='center', va='center', fontsize=7, fontweight='bold', color='#595959')
fig.text(0.828, 1 - 381 / 388, "Number of days since the first death confirmed",
         ha='center', va='center', fontsize=6.8, color=LABEL)

fig.savefig('out.png', dpi=100)
